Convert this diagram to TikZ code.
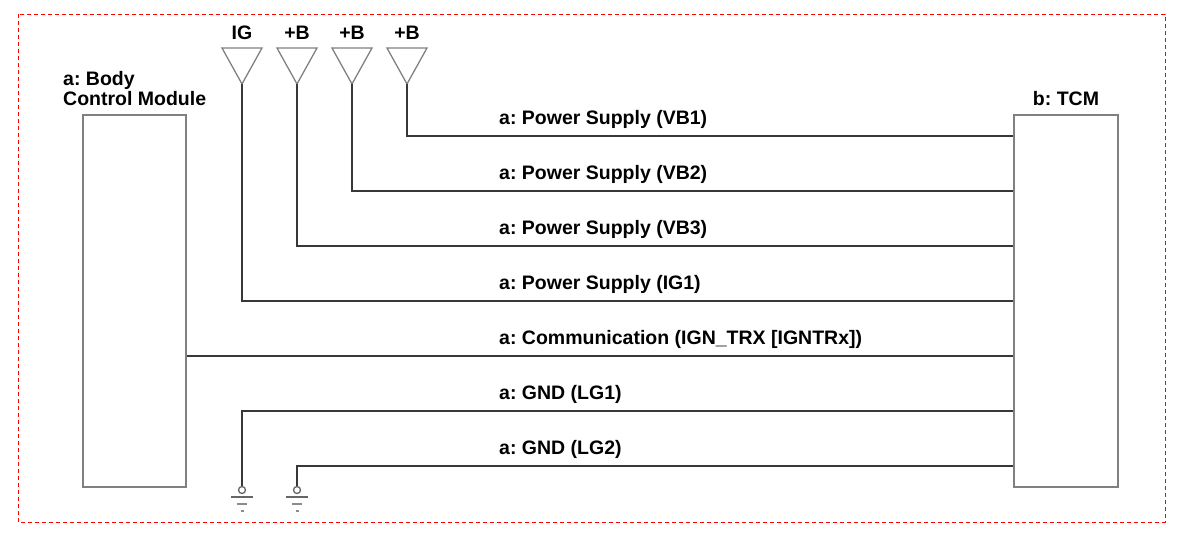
\documentclass[tikz,border=0pt]{standalone}
\usepackage{fontspec}
\setmainfont{Liberation Sans}
\usetikzlibrary{positioning,calc}
\frenchspacing
\begin{document}
\begin{tikzpicture}
[x=1pt,y=-1pt,
wire/.style = {draw=black!78, line width=2.8pt},
unit/.style = {draw=black!50, line width=1.8pt, minimum width=103pt, minimum height=372pt, inner sep=0pt},
feed/.style = {draw=black!50, line width=1.3pt},
gnd/.style = {draw=black!45, line width=1.3pt},
txt/.style = {font=\fontsize{19.5}{20}\selectfont\bfseries, inner sep=0pt},]
\useasboundingbox (0,0) rectangle (1200,552);
\draw[red, line width=1pt, dash pattern=on 4pt off 3pt] (18,14) rectangle (1165,522);
\node (bcm) at (134.5,301)[unit] {};
\node (tcm) at (1066,301)[unit, minimum width=104pt] {};
\node (bcmlabel) at (63,106)[txt, align=left, anchor=south west] {a: Body\\Control Module};
\node (tcmlabel) [txt, above=8pt of tcm] {b: TCM};
\foreach \x/\n/\t in {242/ig/IG,297/bc/+B,352/bb/+B,407/ba/+B}{
  \coordinate (\n) at (\x,84);
  \draw[feed] (\x-20,48) -- (\x+20,48) -- (\n) -- cycle;
  \node (\n label) at (\x,33)[txt] {\t};
}
\coordinate (ga) at (242,490);
\coordinate (gb) at (297,490);
\draw[wire] (ba) |- (tcm.west |- 0,136);
\draw[wire] (bb) |- (tcm.west |- 0,191);
\draw[wire] (bc) |- (tcm.west |- 0,246);
\draw[wire] (ig) |- (tcm.west |- 0,301);
\draw[wire] (bcm.east |- 0,356) -- (tcm.west |- 0,356);
\draw[wire] (tcm.west |- 0,411) -| ($(ga)+(0,-3.5)$);
\draw[wire] (tcm.west |- 0,466) -| ($(gb)+(0,-3.5)$);
\foreach \g in {ga,gb}{
  \draw[gnd, draw=black!60] (\g) circle (3.5);
  \draw[gnd, draw=black!60, line width=2.2pt] ($(\g)+(-11,7)$) -- ($(\g)+(11,7)$);
  \draw[gnd] ($(\g)+(-5,14)$) -- ($(\g)+(5,14)$);
  \draw[gnd] ($(\g)+(-1.5,21)$) -- ($(\g)+(1.5,21)$);
}
\foreach \y/\l in {136/{a: Power Supply (VB1)},191/{a: Power Supply (VB2)},246/{a: Power Supply (VB3)},301/{a: Power Supply (IG1)},356/{a: Communication (IGN\_TRX [IGNTRx])},411/{a: GND (LG1)},466/{a: GND (LG2)}}
  \node at (499,\y-12)[txt, anchor=base west] {\l};
\end{tikzpicture}
\end{document}
